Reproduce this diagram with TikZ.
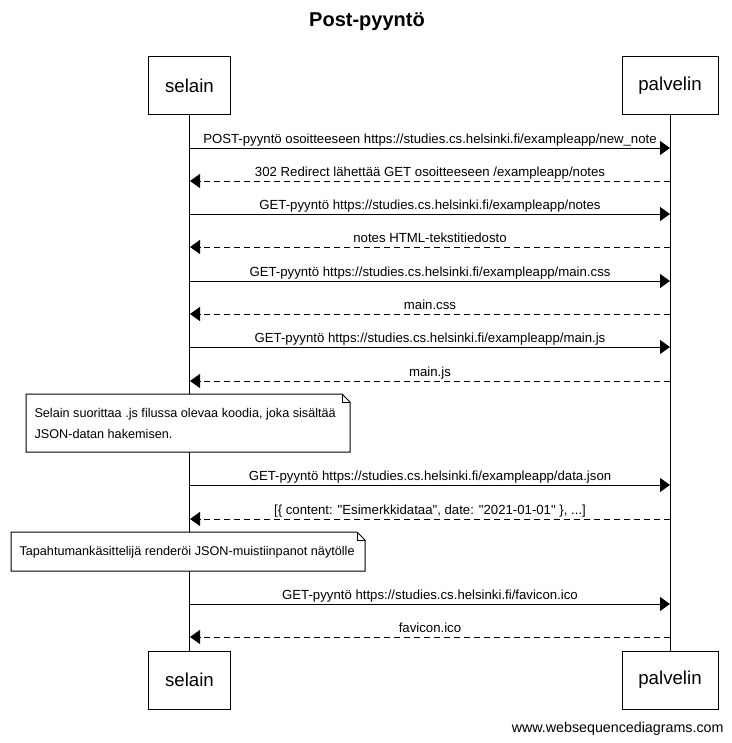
\documentclass[tikz,border=0pt]{standalone}
\usepackage{fontspec}
\setmainfont{Liberation Sans}[Ligatures=TeXOff]
\usetikzlibrary{arrows.meta}
\def\reqname{req}
\newcommand\sq{\char"22\relax}
\begin{document}
\begin{tikzpicture}[x=0.75pt,y=-0.75pt,
  line width=0.75pt,
  actor/.style={draw,fill=white,minimum width=#1,minimum height=43.5pt,inner sep=0pt,font=\fontsize{14}{16}\selectfont},
  req/.style={-{Triangle[length=7.5pt,width=10.5pt]}},
  resp/.style={dash pattern=on 4.5pt off 3pt,-{Triangle[length=7.5pt,width=10.5pt]}},
  msg/.style={font=\fontsize{9.9}{11}\selectfont,inner sep=0pt,anchor=base},
  notetext/.style={font=\fontsize{9.5}{15.5}\selectfont,align=left,anchor=north west,inner sep=0pt}]
\useasboundingbox[fill=white] (0,0) rectangle (732,743);

% title
\node[font=\bfseries\fontsize{15}{18}\selectfont] (title) at (367,22) {Post-pyyntö};

% participants, top and bottom
\node[actor=61pt] (selT) at (189.5,85.5) {selain};
\node[actor=72pt] (palT) at (670,85.5) {palvelin};
\node[actor=61pt] (selB) at (189.5,680) {selain};
\node[actor=72pt] (palB) at (670,680) {palvelin};

% lifelines
\draw (selT.south) -- (selB.north);
\draw (palT.south) -- (palB.north);

% message rows: y of arrow, style, text
\foreach \y/\s/\lbl in {
  148/req/{POST-pyyntö osoitteeseen https://studies.cs.helsinki.fi/exampleapp/new\_note},
  181/resp/{302 Redirect lähettää GET osoitteeseen /exampleapp/notes},
  214/req/{GET-pyyntö https://studies.cs.helsinki.fi/exampleapp/notes},
  247/resp/{notes HTML-tekstitiedosto},
  281/req/{GET-pyyntö https://studies.cs.helsinki.fi/exampleapp/main.css},
  314/resp/{main.css},
  347/req/{GET-pyyntö https://studies.cs.helsinki.fi/exampleapp/main.js},
  381/resp/{main.js},
  485/req/{GET-pyyntö https://studies.cs.helsinki.fi/exampleapp/data.json},
  519/resp/{[\{ content: \sq Esimerkkidataa\sq, date: \sq 2021-01-01\sq\ \}, ...]},
  604/req/{GET-pyyntö https://studies.cs.helsinki.fi/favicon.ico},
  637/resp/{favicon.ico}}
{
  \coordinate (l) at (190,\y);
  \coordinate (r) at (670,\y);
  \ifx\s\reqname
    \draw[req] (l) -- (r);
  \else
    \draw[resp] (r) -- (l);
  \fi
  \node[msg] at (430,\y-5) {\lbl};
}

% notes with folded corner
\newcommand\notebox[4]{%
  \draw[fill=white] (#1,#2) -- (#3-8,#2) -- (#3,#2+8) -- (#3,#4) -- (#1,#4) -- cycle;
  \draw (#3-8,#2) -- (#3-8,#2+8) -- (#3,#2+8);
}
\notebox{26}{394}{350}{452}
\node[notetext] (noteA) at (34,408) {Selain suorittaa .js filussa olevaa koodia, joka sisältää\\JSON-datan hakemisen.};
\notebox{11}{532}{365}{571}
\node[notetext] (noteB) at (19,546) {Tapahtumankäsittelijä renderöi JSON-muistiinpanot näytölle};

% footer
\node[font=\fontsize{10.7}{12}\selectfont,anchor=base east,inner sep=0pt] (footer) at (724,732) {www.websequencediagrams.com};
\end{tikzpicture}
\end{document}
